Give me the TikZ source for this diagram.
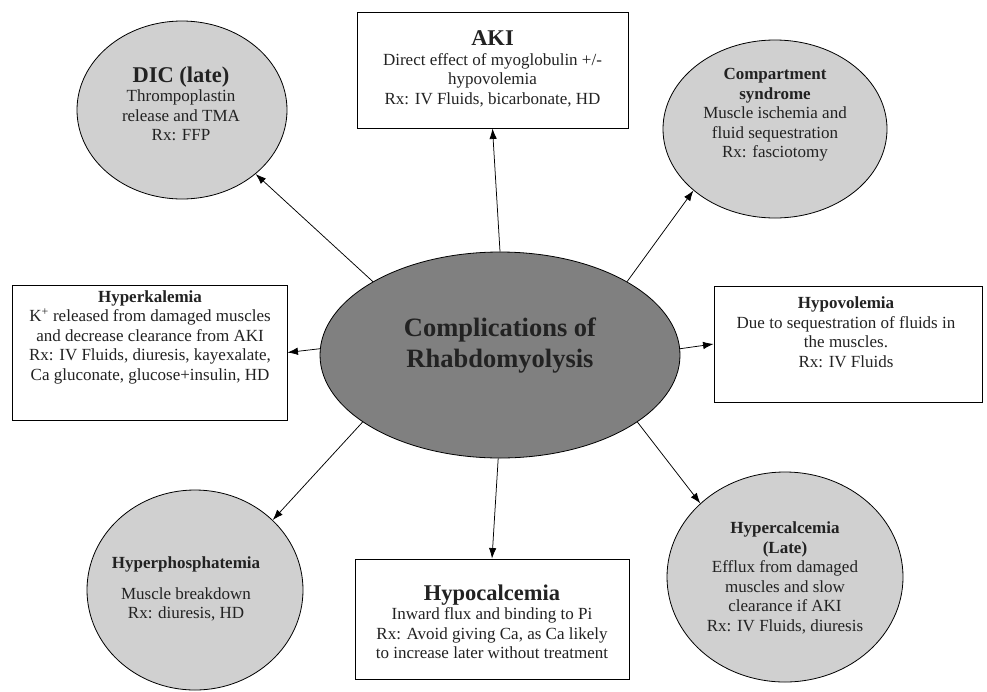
\documentclass[tikz,border=0pt]{standalone}
\usepackage{fontspec}
\setmainfont{Liberation Serif}
\usetikzlibrary{shapes.geometric,arrows.meta}
\definecolor{lightg}{HTML}{D0D0D0}
\definecolor{midg}{HTML}{808080}
\definecolor{ink}{HTML}{222222}
\newcommand{\bodyfs}{\fontsize{17}{19.5}\selectfont}
\newcommand{\headfs}{\fontsize{17}{19.5}\selectfont\bfseries}
\newcommand{\bigfs}{\fontsize{22.5}{25}\selectfont\bfseries}
\begin{document}
\begin{tikzpicture}[x=1pt,y=-1pt,
  gell/.style={ellipse, draw=black, line width=0.8pt, fill=lightg, inner sep=0pt},
  boxn/.style={rectangle, draw=black, line width=0.9pt, fill=white, inner sep=0pt},
  txt/.style={align=center, inner sep=0pt, text=ink, font=\bodyfs},
  arr/.style={-{Latex[length=10.5pt,width=7.5pt]}, line width=0.75pt}]
\useasboundingbox (0,0) rectangle (987,691);
\fill[white] (0,0) rectangle (987,691);
% shapes
\node[ellipse, draw=black, line width=0.8pt, fill=midg, minimum width=360pt, minimum height=206pt, inner sep=0pt] (c) at (500,355) {};
\node[gell, minimum width=210pt, minimum height=178pt] (dic) at (182,110) {};
\node[boxn, minimum width=271pt, minimum height=116pt] (aki) at (492.5,70) {};
\node[gell, minimum width=224pt, minimum height=178pt] (comp) at (775,129) {};
\node[boxn, minimum width=275pt, minimum height=135pt] (hk) at (149.5,352.5) {};
\node[boxn, minimum width=268pt, minimum height=116pt] (hv) at (848,344) {};
\node[gell, minimum width=216pt, minimum height=200pt] (hp) at (195,590) {};
\node[boxn, minimum width=274pt, minimum height=120pt] (hc) at (492,619) {};
\node[gell, minimum width=236pt, minimum height=210pt] (hca) at (785,577) {};
% texts
\node[txt, font=\fontsize{26.5}{31}\selectfont\bfseries] (ct) at (500,346) {Complications of\\ Rhabdomyolysis};
\node[txt] (dict) at (181,104) {{\bigfs DIC (late)}\\ Thrompoplastin\\ release and TMA\\ Rx: FFP};
\node[txt] (akit) at (492.5,69) {{\bigfs AKI}\\ Direct effect of myoglobulin +/-\\ hypovolemia\\ Rx: IV Fluids, bicarbonate, HD};
\node[txt] (compt) at (775,115) {{\headfs Compartment}\\ {\headfs syndrome}\\ Muscle ischemia and\\ fluid sequestration\\ Rx: fasciotomy};
\node[txt] (hkt) at (150,337) {{\headfs Hyperkalemia}\\ K\textsuperscript{+} released from damaged muscles\\ and decrease clearance from AKI\\ Rx: IV Fluids, diuresis, kayexalate,\\ Ca gluconate, glucose+insulin, HD};
\node[txt] (hvt) at (846,332) {{\headfs Hypovolemia}\\ Due to sequestration of fluids in\\ the muscles.\\ Rx: IV Fluids};
\node[txt] (hpt) at (186,589) {{\headfs Hyperphosphatemia}\\[11pt] Muscle breakdown\\ Rx: diuresis, HD};
\node[txt] (hct) at (492,622) {{\bigfs Hypocalcemia}\\ Inward flux and binding to Pi\\ Rx: Avoid giving Ca, as Ca likely\\ to increase later without treatment};
\node[txt] (hcat) at (785,578) {{\headfs Hypercalcemia}\\ {\headfs (Late)}\\ Efflux from damaged\\ muscles and slow\\ clearance if AKI\\ Rx: IV Fluids, diuresis};
% arrows
\draw[arr] (c.150.4) -- (dic.319);
\draw[arr] (c.90.5) -- (aki.south);
\draw[arr] (c.30.4) -- (comp.217.8);
\draw[arr] (c.178.4) -- (hk.east);
\draw[arr] (c.2.2) -- (hv.west);
\draw[arr] (c.206.9) -- (hp.42.7);
\draw[arr] (c.269) -- (hc.north);
\draw[arr] (c.334.7) -- (hca.139.6);
\end{tikzpicture}
\end{document}
